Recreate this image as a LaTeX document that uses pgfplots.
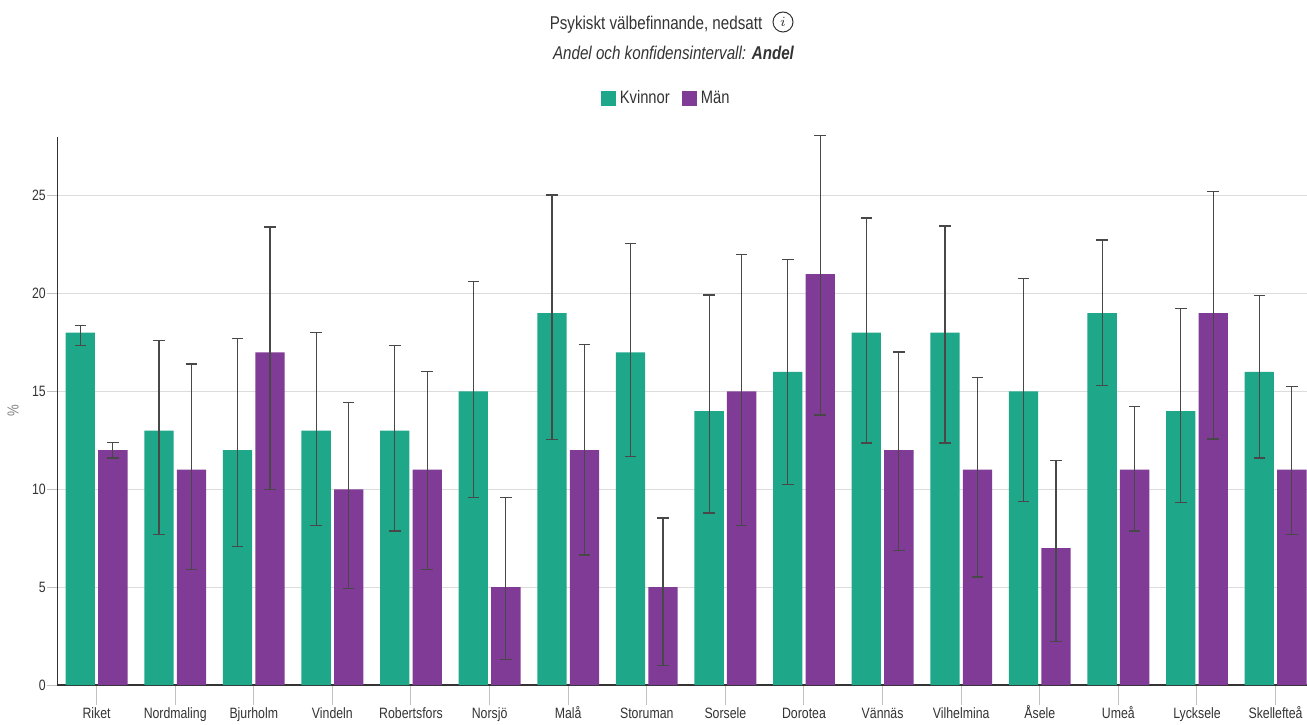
\documentclass[border=0pt]{standalone}
\usepackage{pgfplots}
\pgfplotsset{compat=1.18}
\usepackage{pgfplotstable}
\usepackage{fontspec}
\setmainfont{Liberation Sans}[FakeStretch=0.82]
\definecolor{kv}{HTML}{1FA78A}
\definecolor{mn}{HTML}{803B96}
\definecolor{txt}{HTML}{333333}
\definecolor{gridc}{HTML}{DCDCDC}
\definecolor{tickc}{HTML}{C0C0C0}
\definecolor{errc}{HTML}{484848}

\pgfplotstableread{
x y lo hi
-0.207 18 17.33 18.35
0.793 13 7.69 17.6
1.793 12 7.09 17.7
2.793 13 8.15 18.0
3.793 13 7.87 17.33
4.793 15 9.59 20.63
5.793 19 12.54 25.04
6.793 17 11.68 22.54
7.793 14 8.79 19.93
8.793 16 10.26 21.75
9.793 18 12.37 23.86
10.793 18 12.37 23.45
11.793 15 9.38 20.76
12.793 19 15.3 22.74
13.793 14 9.33 19.25
14.793 16 11.6 19.9
}\kvinnor

\pgfplotstableread{
x y lo hi
0.207 12 11.6 12.4
1.207 11 5.9 16.4
2.207 17 9.98 23.4
3.207 10 4.93 14.44
4.207 11 5.9 16.03
5.207 5 1.31 9.59
6.207 12 6.64 17.4
7.207 5 0.99 8.53
8.207 15 8.15 22.0
9.207 21 13.8 28.06
10.207 12 6.88 17.01
11.207 11 5.52 15.7
12.207 7 2.22 11.49
13.207 11 7.87 14.23
14.207 19 12.57 25.22
15.207 11 7.67 15.24
}\maen

\pgfplotsset{
  common/.style={
    at={(28.65pt,19.5pt)}, anchor=south west,
    scale only axis, width=624.85pt, height=274pt,
    xmin=-0.5, xmax=15.4, ymin=0, ymax=28,
    /pgf/number format/assume math mode=true,
    tick label style={font=\fontsize{7.5}{9}\selectfont, text=txt},
    tick align=outside,
  },
  errstyle/.style={
    error bars/.cd, y dir=both, y explicit,
    error bar style={draw=errc, line width=0.6pt},
    error mark options={rotate=90, draw=errc, line width=0.6pt, mark size=2.9pt},
  },
}

\begin{document}
\begin{tikzpicture}
\useasboundingbox (0,0) rectangle (653.5pt,362pt);
% x ticks and category labels (longer ticks)
\begin{axis}[common,
  axis x line*=bottom, hide y axis,
  x axis line style={draw=none},
  xtick={0,...,15},
  xticklabels={Riket,Nordmaling,Bjurholm,Vindeln,Robertsfors,Norsjö,Malå,Storuman,Sorsele,Dorotea,Vännäs,Vilhelmina,Åsele,Umeå,Lycksele,Skellefteå},
  xticklabel style={text height=5.6pt, text depth=1.4pt, yshift=2.6pt},
  major tick length=10pt,
  xtick style={color=tickc, line width=0.5pt},
]
\end{axis}
% main chart
\begin{axis}[common,
  clip=false,
  axis x line*=bottom, axis y line*=left,
  axis line style={draw=txt, line width=0.6pt, -},
  xtick=\empty,
  ytick={0,5,...,25},
  yticklabel style={inner sep=0.6pt},
  major tick length=5pt,
  ytick style={color=tickc, line width=0.5pt},
  ymajorgrids, grid style={draw=gridc, line width=0.5pt},
  ylabel={\%},
  ylabel style={at={(axis description cs:-0.0354,0.5)}, anchor=center, font=\fontsize{8}{9}\selectfont, text=gray},
  legend columns=2,
  legend style={at={(0.488,1.0703)}, anchor=center, draw=none, fill=none,
    font=\fontsize{9}{11}\selectfont, text=txt,
    /tikz/every even column/.append style={column sep=4pt}},
  legend image code/.code={\fill[#1] (0pt,-3.75pt) rectangle (7.5pt,3.75pt);},
]
\addplot[ybar, bar width=0.373, bar shift=0pt, fill=kv, draw=none, errstyle]
  table[x=x, y=y, y error plus expr=\thisrow{hi}-\thisrow{y}, y error minus expr=\thisrow{y}-\thisrow{lo}] {\kvinnor};
\addlegendentry{Kvinnor}
\addplot[ybar, bar width=0.373, bar shift=0pt, fill=mn, draw=none, errstyle]
  table[x=x, y=y, y error plus expr=\thisrow{hi}-\thisrow{y}, y error minus expr=\thisrow{y}-\thisrow{lo}] {\maen};
\addlegendentry{Män}
\end{axis}
\node[anchor=base, font=\fontsize{9.25}{11}\selectfont, text=txt, inner sep=0pt] at (328pt,347pt) {Psykiskt välbefinnande, nedsatt};
\draw[txt, line width=0.5pt] (391.5pt,351pt) circle (5pt);
\node[inner sep=0pt, text=txt] at (391.5pt,351pt) {\fontsize{7}{8}\selectfont$i$};
\node[anchor=base, font=\fontsize{9.25}{11}\selectfont\itshape, text=txt, inner sep=0pt] at (336.75pt,332.3pt) {Andel och konfidensintervall: \textbf{Andel}};
\end{tikzpicture}
\end{document}
